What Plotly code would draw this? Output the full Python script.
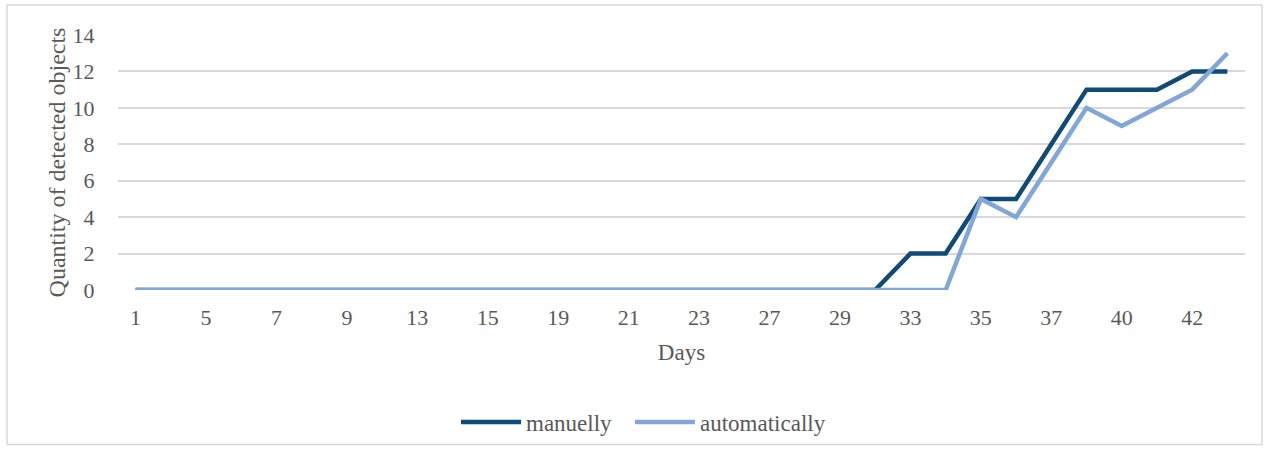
import plotly.graph_objects as go

# Day labels (every other one is shown on the axis)
days = ["1", "3", "5", "6", "7", "8", "9", "11", "13", "14", "15", "17", "19", "20",
        "21", "22", "23", "25", "27", "28", "29", "31", "33", "34", "35", "36", "37",
        "38", "40", "41", "42", "43"]
manuelly = [0] * 22 + [2, 2, 5, 5, 8, 11, 11, 11, 12, 12]
automatically = [0] * 24 + [5, 4, 7, 10, 9, 10, 11, 13]
y_ticks = [0, 2, 4, 6, 8, 10, 12, 14]

FONT = "Liberation Serif"
TEXT = "#595959"

fig = go.Figure()
fig.add_trace(go.Scatter(x=days, y=manuelly, mode="lines", name="manuelly",
                         line=dict(color="#0F4A78", width=4.5), legend="legend"))
fig.add_trace(go.Scatter(x=days, y=automatically, mode="lines", name="automatically",
                         line=dict(color="#80A6DA", width=4.5), legend="legend2"))

W, H = 1270, 454
L, R, T, B = 118, 25, 35, 163
pw, ph = W - L - R, H - T - B

def px_x(p):
    return (p - L) / pw

def px_y(p):
    return (H - B - p) / ph

legend_style = dict(orientation="h", xanchor="left", y=px_y(422), yanchor="middle",
                    font=dict(family=FONT, size=23, color=TEXT), itemwidth=60,
                    bgcolor="rgba(0,0,0,0)")

fig.update_layout(
    width=W, height=H,
    margin=dict(l=L, r=R, t=T, b=B),
    paper_bgcolor="white", plot_bgcolor="white",
    font=dict(family=FONT, size=22, color=TEXT),
    showlegend=True,
    legend=dict(x=px_x(456), **legend_style),
    legend2=dict(x=px_x(630), **legend_style),
    xaxis=dict(type="category", range=[-0.5, len(days) - 0.5],
               tickmode="array", tickvals=days[::2], ticktext=days[::2],
               showgrid=False, zeroline=False, showline=False,
               ticks="outside", ticklen=8, tickcolor="rgba(0,0,0,0)",
               tickfont=dict(family=FONT, size=22, color=TEXT),
               title=dict(text="Days", standoff=14,
                          font=dict(family=FONT, size=23, color=TEXT))),
    yaxis=dict(range=[0, 14], tickvals=y_ticks, showgrid=True,
               gridcolor="#D9D9D9", gridwidth=1.5, zeroline=False, showline=False,
               ticks="outside", ticklen=18, tickcolor="rgba(0,0,0,0)",
               tickfont=dict(family=FONT, size=22, color=TEXT),
               title=dict(text="Quantity of detected objects", standoff=0,
                          font=dict(family=FONT, size=24, color=TEXT))),
    shapes=[dict(type="rect", xref="paper", yref="paper",
                 x0=px_x(7), x1=px_x(1262), y0=px_y(446), y1=px_y(5),
                 line=dict(color="#D9D9D9", width=1.5), layer="below")],
)

fig.write_html("out.html")
